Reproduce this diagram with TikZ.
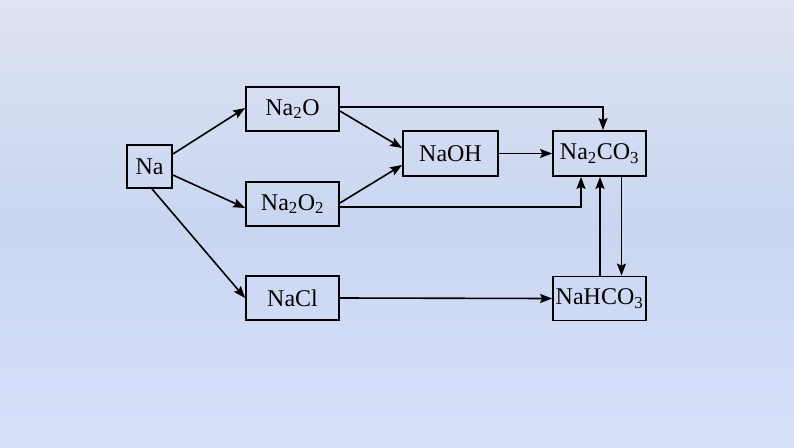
\documentclass[tikz,border=0pt]{standalone}
\usepackage{fontspec}
\setmainfont{Liberation Serif}
\usetikzlibrary{arrows.meta,calc}
\definecolor{bgtop}{HTML}{DCE3F1}
\definecolor{bgmid}{HTML}{CAD6F1}
\definecolor{bgbot}{HTML}{D7E0F9}
\begin{document}
\begin{tikzpicture}[x=1pt,y=-1pt,
  box/.style={draw=black,line width=1.8pt,fill=bgmid!60!white,fill opacity=0,text opacity=1,inner sep=0pt,
    minimum width=93pt,minimum height=44pt,font=\fontsize{24}{26}\selectfont},
  arr/.style={line width=1.6pt,-{Stealth[length=12pt,width=9pt,inset=2pt]}}]
\useasboundingbox (0,0) rectangle (794,447);
\shade[top color=bgtop,bottom color=bgbot,middle color=bgmid] (0,0) rectangle (794,447);
\node[box,minimum width=45pt,minimum height=43pt] (Na) at (149.5,166.5) {Na};
\node[box] (Na2O) at (292.5,109) {Na\textsubscript{2}O};
\node[box] (Na2O2) at (292.5,204) {Na\textsubscript{2}O\textsubscript{2}};
\node[box] (NaCl) at (292.5,298) {NaCl};
\node[box,minimum width=95pt,minimum height=45pt] (NaOH) at (450.5,153.5) {NaOH};
\node[box,minimum height=45pt] (Na2CO3) at (599.5,153.5) {Na\textsubscript{2}CO\textsubscript{3}};
\node[box] (NaHCO3) at (599.5,298.5) {NaHCO\textsubscript{3}};
\draw[arr] ($(Na.east)+(0,-12.5)$) -- ($(Na2O.west)+(0,-1)$);
\draw[arr] ($(Na.east)+(0,8.5)$) -- ($(Na2O2.west)+(0,4)$);
\draw[arr] ($(Na.south)+(2.5,0)$) -- (NaCl.west);
\draw[arr] ($(Na2O.east)+(0,2)$) -- ($(NaOH.west)+(0,-5.5)$);
\draw[arr] ($(Na2O2.east)+(0,-1)$) -- ($(NaOH.west)+(0,11.5)$);
\draw[arr] ($(Na2O.east)+(0,-2)$) -| ($(Na2CO3.north)+(3.5,0)$);
\draw[arr] ($(Na2O2.east)+(0,3)$) -| ($(Na2CO3.south)+(-18.5,0)$);
\draw[arr] (NaOH.east) -- (Na2CO3.west);
\draw[arr] (NaCl.east) -- (NaHCO3.west);
\draw[arr] ($(NaHCO3.north)+(0.5,0)$) -- ($(Na2CO3.south)+(0.5,0)$);
\draw[arr] ($(Na2CO3.south)+(22,0)$) -- ($(NaHCO3.north)+(22,0)$);
\end{tikzpicture}
\end{document}
